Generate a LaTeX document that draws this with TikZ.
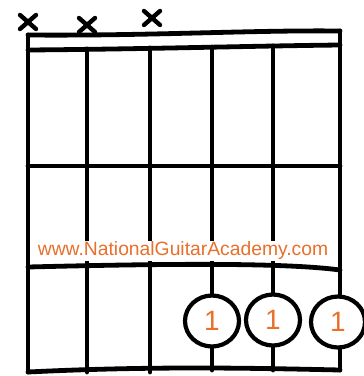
\documentclass[tikz,border=0pt]{standalone}
\usepackage{fontspec}
\usetikzlibrary{shapes.geometric}
\setmainfont{Liberation Sans}
\definecolor{nga}{HTML}{E8702A}
\begin{document}
\begin{tikzpicture}[x=1pt,y=-1pt,
  ink/.style={line width=4.8pt,line cap=round,line join=round,black},
  fing/.style={ellipse,draw=black,line width=4.2pt,fill=white,minimum width=54pt,minimum height=51pt,inner sep=0pt,text=nga,font=\fontsize{28}{28}\selectfont},
  mute/.style={line width=4.4pt,line cap=round,black},
  wm/.style={text=nga,font=\fontsize{19.3}{20}\selectfont,inner sep=1pt,fill=white}]
\useasboundingbox (0,0) rectangle (364,376);
% nut
\coordinate (n1) at (28,35);
\coordinate (n2) at (340,31);
\coordinate (m1) at (28,50);
\coordinate (m2) at (340,45);
\draw[ink] (n1) .. controls (150,36) and (250,30) .. (n2);
\draw[ink] (m1) .. controls (150,49) and (250,46) .. (m2);
% strings
\foreach \i/\x/\t/\b in {1/28/35/372,2/87/49/372,3/150/48/372,4/212/47/370,5/273/46/370,6/340/31/370}{
  \coordinate (s\i t) at (\x,\t);
  \coordinate (s\i b) at (\x,\b);
}
\draw[ink] (s1t) -- (s1b);
\draw[ink] (s2t) -- (s2b);
\draw[ink] (s3t) -- (s3b);
\draw[ink] (s4t) -- (s4b);
\draw[ink] (s5t) -- (s5b);
\draw[ink] (s6t) -- (s6b);
% frets
\coordinate (f1a) at (28,166); \coordinate (f1b) at (340,166);
\coordinate (f2a) at (28,267); \coordinate (f2b) at (340,270);
\draw[ink] (f1a) -- (f1b);
\draw[ink] (f2a) .. controls (150,264) and (280,262) .. (f2b);
\draw[ink] (s1b) .. controls (150,366) and (250,368) .. (s6b);
% watermark
\node[wm] (web) at (183,251) {www.NationalGuitarAcademy.com};
% fingers
\node[fing] (c4) at (212,321) {1};
\node[fing] (c5) at (273,320) {1};
\node[fing] (c6) at (338,322) {1};
% mutes
\foreach \n/\x/\y in {x1/28/22,x2/87/25,x3/152/18}{
  \coordinate (\n) at (\x,\y);
  \draw[mute] ([shift={(-8,-7)}]\n) -- ([shift={(8,7)}]\n);
  \draw[mute] ([shift={(-8,7)}]\n) -- ([shift={(8,-7)}]\n);
}
\end{tikzpicture}
\end{document}
